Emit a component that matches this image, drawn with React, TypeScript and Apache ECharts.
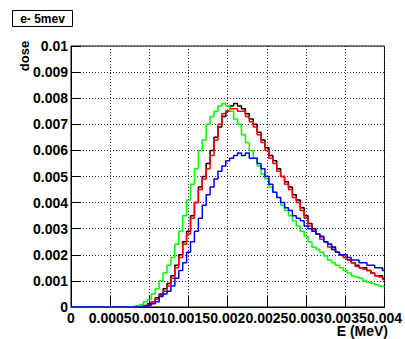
import React, { useEffect, useRef } from "react";
import * as echarts from "echarts";

const BIN_WIDTH = 0.00005;
const N_BINS = 81;
const energies: number[] = Array.from({ length: N_BINS }, (_, i) => +(i * BIN_WIDTH).toFixed(5));

const zeros = (n: number) => new Array(n).fill(0);

const blackDose: number[] = [
  ...zeros(18),
  0.00002, 0.00006, 0.00012, 0.0002, 0.00035, 0.0005, 0.0007, 0.0009, 0.0012, 0.0016,
  0.002, 0.0025, 0.0029, 0.0035, 0.004, 0.0046, 0.005, 0.0055, 0.006, 0.0065,
  0.0069, 0.0073, 0.0075, 0.0077, 0.0078, 0.0077, 0.0076, 0.0074, 0.0072, 0.007,
  0.0067, 0.0064, 0.0061, 0.0058, 0.0056, 0.0053, 0.005, 0.0048, 0.0046, 0.0043,
  0.0041, 0.0038, 0.0035, 0.0032, 0.003, 0.0028, 0.0027, 0.0025, 0.0024, 0.0023,
  0.0021, 0.002, 0.0019, 0.0018, 0.0017, 0.0016, 0.0015, 0.0015, 0.0014, 0.0013,
  0.0012, 0.0012, 0.0011,
];

const redDose: number[] = [
  ...zeros(18),
  0.00002, 0.00005, 0.0001, 0.0002, 0.0003, 0.00045, 0.0006, 0.0008, 0.0011, 0.0015,
  0.0019, 0.0024, 0.0028, 0.0034, 0.004, 0.0045, 0.0049, 0.0053, 0.0058, 0.0064,
  0.007, 0.0074, 0.0075, 0.0076, 0.0076, 0.0075, 0.0075, 0.0073, 0.0071, 0.0069,
  0.0066, 0.0063, 0.006, 0.0057, 0.0055, 0.0052, 0.005, 0.0047, 0.0045, 0.0042,
  0.004, 0.0037, 0.0034, 0.0031, 0.0029, 0.0028, 0.0026, 0.0025, 0.0023, 0.0022,
  0.0021, 0.002, 0.0019, 0.0018, 0.0017, 0.00155, 0.0015, 0.00145, 0.0014, 0.0013,
  0.0012, 0.00115, 0.00105,
];

const greenDose: number[] = [
  ...zeros(16),
  0.00002, 0.00005, 0.0001, 0.0002, 0.0003, 0.0005, 0.0007, 0.001, 0.0013, 0.0016,
  0.0019, 0.0024, 0.0029, 0.0035, 0.0041, 0.0047, 0.0053, 0.006, 0.0064, 0.007,
  0.0073, 0.0075, 0.0077, 0.0078, 0.0077, 0.0075, 0.0072, 0.007, 0.0066, 0.0063,
  0.006, 0.0057, 0.0054, 0.0051, 0.0049, 0.0046, 0.0044, 0.0042, 0.0039, 0.0037,
  0.0035, 0.0033, 0.0031, 0.0029, 0.0027, 0.0025, 0.0023, 0.0022, 0.0021, 0.00195,
  0.0018, 0.0017, 0.0016, 0.0015, 0.0014, 0.0013, 0.0012, 0.00115, 0.0011, 0.001,
  0.00095, 0.0009, 0.00085, 0.0008, 0.00078,
];

const blueDose: number[] = [
  ...zeros(18),
  0.00001, 0.00003, 0.00007, 0.00012, 0.0002, 0.0004, 0.0005, 0.0006, 0.0008, 0.0011,
  0.0014, 0.0017, 0.0021, 0.0025, 0.0029, 0.0034, 0.0039, 0.0043, 0.0046, 0.0049,
  0.0052, 0.0054, 0.0056, 0.0057, 0.0058, 0.0059, 0.0058, 0.0059, 0.0057, 0.0057,
  0.0055, 0.0053, 0.005, 0.0047, 0.0044, 0.0042, 0.004, 0.0038, 0.0037, 0.0035,
  0.0034, 0.0033, 0.0031, 0.003, 0.0029, 0.0028, 0.0027, 0.0025, 0.0024, 0.0022,
  0.0021, 0.002, 0.002, 0.0019, 0.0018, 0.0018, 0.0017, 0.0017, 0.0016, 0.0016,
  0.0015, 0.0015, 0.0014,
];

const xTickLabels = ["0", "0.0005", "0.001", "0.0015", "0.002", "0.0025", "0.003", "0.0035", "0.004"];
const yTickLabels = ["0", "0.001", "0.002", "0.003", "0.004", "0.005", "0.006", "0.007", "0.008", "0.009", "0.01"];

const histTitle = "e- 5mev";
const xTitle = "E (MeV)";
const yTitle = "dose";

const FONT = "'Liberation Sans', Arial, Helvetica, sans-serif";

export default function App() {
  const ref = useRef<HTMLDivElement>(null);
  useEffect(() => {
    if (!ref.current) return;
    const chart = echarts.init(ref.current, undefined, { renderer: "svg" });
    const mk = (vals: number[]) => energies.map((e, i) => [e, vals[i]]);
    const line = (name: string, vals: number[], color: string) => ({
      name,
      type: "line",
      step: "middle",
      showSymbol: false,
      data: mk(vals),
      lineStyle: { color, width: 1.5 },
      itemStyle: { color },
      z: 3,
    });
    chart.setOption({
      animation: false,
      backgroundColor: "#fff",
      grid: {
        left: 71,
        right: 17,
        top: 46,
        bottom: 32,
        show: true,
        borderColor: "#000",
        borderWidth: 1,
      },
      xAxis: {
        type: "value",
        min: 0,
        max: 0.004,
        interval: 0.0005,
        axisLine: { show: true, lineStyle: { color: "#000", width: 1 } },
        axisTick: { show: true, inside: true, length: 11, lineStyle: { color: "#000", width: 1 } },
        axisLabel: {
          margin: 4,
          color: "#000",
          fontFamily: FONT,
          fontWeight: "bold",
          fontSize: 14,
          formatter: (v: number) => xTickLabels[Math.round(v / 0.0005)] ?? "",
        },
        splitLine: { show: true, lineStyle: { color: "#333", width: 1, type: [1, 2] } },
      },
      yAxis: {
        type: "value",
        min: 0,
        max: 0.01,
        interval: 0.001,
        axisLine: { show: true, lineStyle: { color: "#000", width: 1 } },
        axisTick: { show: true, inside: true, length: 10, lineStyle: { color: "#000", width: 1 } },
        axisLabel: {
          margin: 3,
          color: "#000",
          fontFamily: FONT,
          fontWeight: "bold",
          fontSize: 14,
          formatter: (v: number) => yTickLabels[Math.round(v / 0.001)] ?? "",
        },
        splitLine: { show: true, lineStyle: { color: "#333", width: 1, type: [1, 2] } },
      },
      series: [
        line("black", blackDose, "#000000"),
        line("red", redDose, "#ff0000"),
        line("green", greenDose, "#00ff00"),
        line("blue", blueDose, "#0000ff"),
      ],
      graphic: [
        {
          type: "rect",
          shape: { x: 12.5, y: 10.5, width: 60, height: 16 },
          style: { fill: "#fff", stroke: "#000", lineWidth: 1 },
        },
        {
          type: "text",
          x: 42.5,
          y: 18.5,
          style: {
            text: histTitle,
            fill: "#000",
            font: `bold 12px ${FONT}`,
            textAlign: "center",
            textVerticalAlign: "middle",
          },
        },
        {
          type: "text",
          x: 24,
          y: 56,
          rotation: Math.PI / 2,
          style: {
            text: yTitle,
            fill: "#000",
            font: `bold 13px ${FONT}`,
            textAlign: "center",
            textVerticalAlign: "middle",
          },
        },
        {
          type: "text",
          x: 388,
          y: 331,
          style: {
            text: xTitle,
            fill: "#000",
            font: `bold 14px ${FONT}`,
            textAlign: "right",
            textVerticalAlign: "middle",
          },
        },
      ],
    });
    return () => chart.dispose();
  }, []);
  return (
    <div
      ref={ref}
      style={{ position: "fixed", left: 0, top: 0, width: 405, height: 339, background: "#fff" }}
    />
  );
}
